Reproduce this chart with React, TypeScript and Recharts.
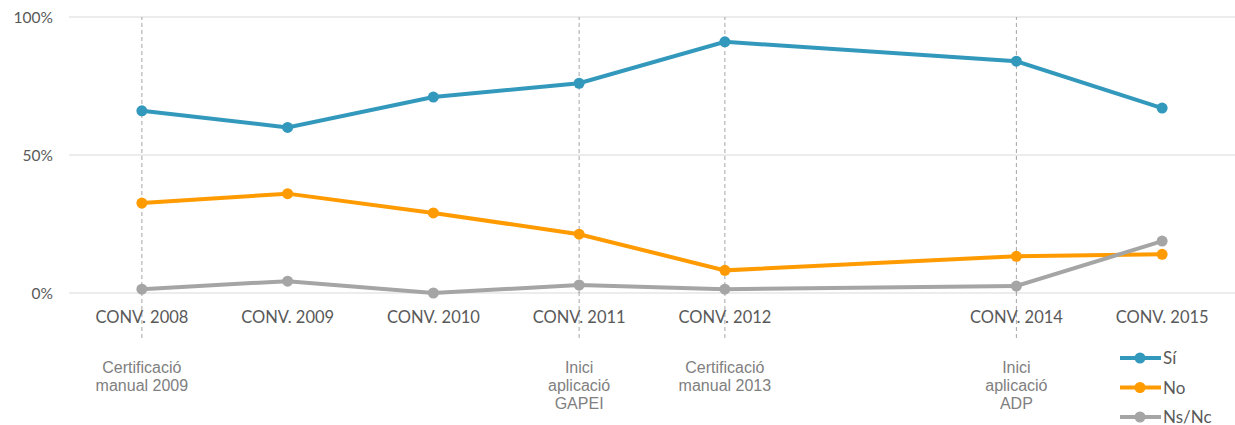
import React from 'react';
import { LineChart, Line, XAxis, YAxis, CartesianGrid, ReferenceLine } from 'recharts';

const years = [2008, 2009, 2010, 2011, 2012, 2014, 2015];
const si = [66, 60, 71, 76, 91, 84, 67];
const no = [32.6, 36, 29, 21.3, 8.2, 13.3, 14];
const nsnc = [1.4, 4.3, 0, 2.9, 1.4, 2.5, 18.8];
const yTicks = [0, 50, 100];

// annotations shown under some of the conv. labels, with a dashed marker line
const notes: Record<number, string[]> = {
    2008: ['Certificació', 'manual 2009'],
    2011: ['Inici', 'aplicació', 'GAPEI'],
    2012: ['Certificació', 'manual 2013'],
    2014: ['Inici', 'aplicació', 'ADP'],
};

const COLORS = {
    si: '#3399BC',
    no: '#FF9B00',
    nsnc: '#A5A5A5',
    grid: '#D9D9D9',
    text: '#595959',
    note: '#808080',
};

const data = years.map((y, i) => ({ year: y, 'Sí': si[i], No: no[i], 'Ns/Nc': nsnc[i] }));

function ConvTick({ x, y, payload }: any) {
    const yr = payload.value as number;
    const lines = notes[yr];
    return (
        <g>
            {lines && (
                <line x1={x} x2={x} y1={y - 9} y2={y + 37} stroke="#A6A6A6" strokeDasharray="4 3" strokeWidth={1} />
            )}
            <text x={x} y={y + 22} textAnchor="middle" fill={COLORS.text} fontSize={16.5} fontFamily="Lato, 'Open Sans', sans-serif">
                CONV. {yr}
            </text>
            {lines && lines.map((t, i) => (
                <text key={i} x={x} y={y + 72 + i * 18} textAnchor="middle" fill={COLORS.note} fontSize={16} fontFamily="'Liberation Sans', Arial, sans-serif">
                    {t}
                </text>
            ))}
        </g>
    );
}

function SideLegend() {
    const items = [
        { name: 'Sí', color: COLORS.si },
        { name: 'No', color: COLORS.no },
        { name: 'Ns/Nc', color: COLORS.nsnc },
    ];
    return (
        <svg width={110} height={90}>
            {items.map((it, i) => (
                <g key={it.name} transform={`translate(0, ${11 + i * 29.5})`}>
                    <line x1={0} x2={41} y1={0} y2={0} stroke={it.color} strokeWidth={4} />
                    <circle cx={20} cy={0} r={5.5} fill={it.color} />
                    <text x={43} y={6} fill={COLORS.text} fontSize={17} fontFamily="Lato, 'Open Sans', sans-serif">{it.name}</text>
                </g>
            ))}
        </svg>
    );
}

export default function App() {
    return (
        <div style={{ position: 'absolute', left: 0, top: 0, width: 1235, height: 425, background: '#fff' }}>
            <LineChart width={1235} height={425} data={data} margin={{ top: 17, right: 0, left: 0, bottom: 0 }}>
                <CartesianGrid vertical={false} stroke={COLORS.grid} strokeWidth={1} />
                <XAxis
                    dataKey="year"
                    type="number"
                    domain={[2007.5, 2015.5]}
                    ticks={years}
                    interval={0}
                    axisLine={false}
                    tickLine={false}
                    height={132}
                    tick={<ConvTick />}
                />
                <YAxis
                    domain={[0, 100]}
                    ticks={yTicks}
                    width={69}
                    axisLine={false}
                    tickLine={false}
                    tickFormatter={(v: number) => `${v}%`}
                    tick={{ fontSize: 15.5, fill: COLORS.text, fontFamily: "Lato, 'Open Sans', sans-serif" }}
                    tickMargin={10}
                />
                {Object.keys(notes).map(k => (
                    <ReferenceLine key={k} x={Number(k)} stroke="#A6A6A6" strokeDasharray="4 3" strokeWidth={1} />
                ))}
                <Line dataKey="Sí" stroke={COLORS.si} strokeWidth={4} dot={{ r: 5.5, fill: COLORS.si, stroke: COLORS.si, strokeWidth: 0 }} isAnimationActive={false} />
                <Line dataKey="No" stroke={COLORS.no} strokeWidth={4} dot={{ r: 5.5, fill: COLORS.no, stroke: COLORS.no, strokeWidth: 0 }} isAnimationActive={false} />
                <Line dataKey="Ns/Nc" stroke={COLORS.nsnc} strokeWidth={4} dot={{ r: 5.5, fill: COLORS.nsnc, stroke: COLORS.nsnc, strokeWidth: 0 }} isAnimationActive={false} />
            </LineChart>
            <div style={{ position: 'absolute', left: 1120, top: 347 }}>
                <SideLegend />
            </div>
        </div>
    );
}
